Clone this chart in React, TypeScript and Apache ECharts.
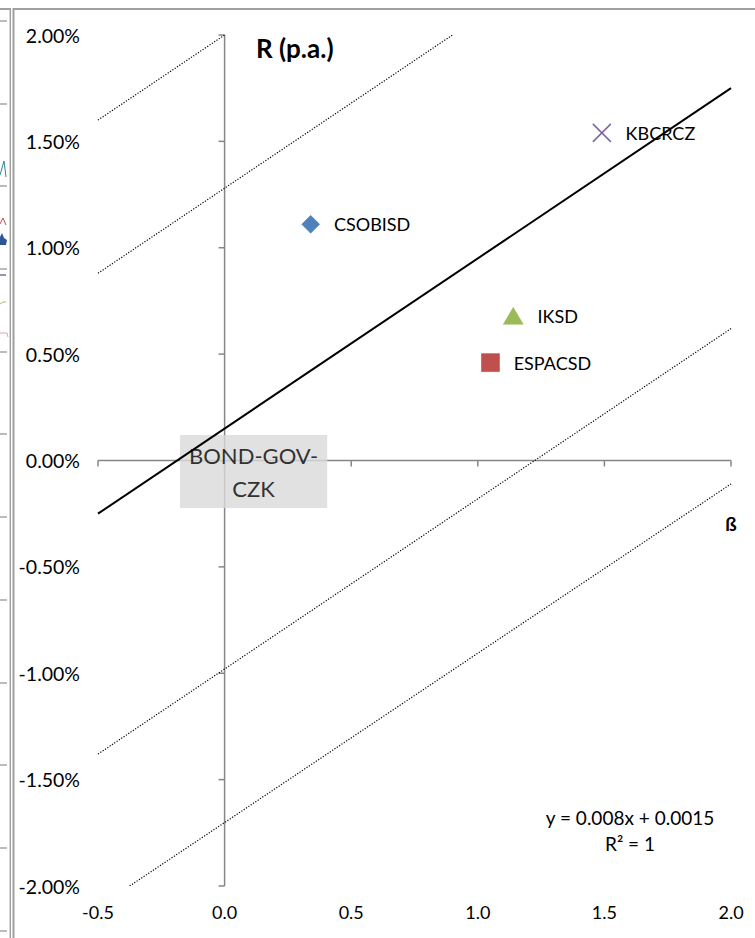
import React, { useEffect, useRef } from "react";
import * as echarts from "echarts";

const FONT = "Lato, 'Open Sans', sans-serif";

// axis ranges and ticks
const xMin = -0.5;
const xMax = 2.0;
const yMin = -0.02;
const yMax = 0.02;
const xTicks = [-0.5, 0, 0.5, 1.0, 1.5, 2.0];
const yTicks = [-0.02, -0.015, -0.01, -0.005, 0, 0.005, 0.01, 0.015, 0.02];

// securities (beta, annual return)
const stockNames = ["CSOBISD", "ESPACSD", "IKSD", "KBCRCZ"];
const stockBeta = [0.34, 1.05, 1.14, 1.49];
const stockReturn = [0.0111, 0.0046, 0.0068, 0.0154];
const stockColors = ["#4F81BD", "#C0504D", "#9BBB59", "#8064A2"];

// benchmark
const benchmarkName = "BOND-GOV-CZK";
const benchmarkPoint = [0, 0];

// security market line (y = 0.008x + 0.0015) and bands
const smlLine = [
  [-0.5, -0.0025],
  [2.0, 0.0175],
];
const bandOuterUpper = [
  [-0.5, 0.016],
  [0.0, 0.02],
];
const bandInnerUpper = [
  [-0.5, 0.0088],
  [0.9, 0.02],
];
const bandInnerLower = [
  [-0.5, -0.0138],
  [2.0, 0.0062],
];
const bandOuterLower = [
  [-0.375, -0.02],
  [2.0, -0.0011],
];

const equationLines = ["y = 0.008x + 0.0015", "R² = 1"];

// background chart ticks (partially visible chart at the left edge)
const leftStripTicks = [21, 104, 186, 269, 352, 434, 517, 600, 683, 765, 848, 931];

const AXIS = "#868686";

export default function App() {
  const ref = useRef<HTMLDivElement>(null);

  useEffect(() => {
    if (!ref.current) return;
    const chart = echarts.init(ref.current, undefined, { renderer: "svg" });

    const symbols = ["diamond", "rect", "triangle", "path://M0,0L10,10M10,0L0,10"];
    const sizes: any[] = [18, 18, [20, 17], 18];

    const stockSeries = stockNames.map((name, i) => ({
      type: "scatter",
      name,
      z: 4,
      data: [[stockBeta[i], stockReturn[i]]],
      symbol: symbols[i],
      symbolSize: sizes[i],
      itemStyle:
        i === 3
          ? { color: "transparent", borderColor: stockColors[i], borderWidth: 1.5, opacity: 1 }
          : {
              color: stockColors[i],
              borderColor: i === 1 ? "#b04542" : stockColors[i],
              borderWidth: 0.5,
              opacity: 1,
            },
      label: {
        show: true,
        position: "right",
        distance: 14,
        formatter: name,
        color: "#000",
        fontFamily: FONT,
        fontSize: 18,
      },
    }));

    const dotted = (data: number[][]) => ({
      type: "line",
      z: 3,
      data,
      symbol: "none",
      silent: true,
      lineStyle: { color: "#000", width: 1.2, type: [1.2, 1.6] },
    });

    const leftGraphics: any[] = [];
    leftStripTicks.forEach((y) =>
      leftGraphics.push({
        type: "line",
        shape: { x1: 0, y1: y, x2: 7, y2: y },
        style: { stroke: "#a6a6a6", lineWidth: 1.5 },
      })
    );

    chart.setOption({
      animation: false,
      backgroundColor: "#fff",
      grid: { left: 98, right: 24, top: 35, bottom: 52, containLabel: false },
      xAxis: {
        type: "value",
        min: xMin,
        max: xMax,
        interval: 0.5,
        axisLine: { show: false },
        axisTick: { show: false },
        splitLine: { show: false },
        axisLabel: {
          formatter: (v: number) => v.toFixed(1),
          color: "#000",
          fontFamily: FONT,
          fontSize: 18,
          margin: 17,
        },
      },
      yAxis: {
        type: "value",
        min: yMin,
        max: yMax,
        interval: 0.005,
        axisLine: { show: false },
        axisTick: { show: false },
        splitLine: { show: false },
        axisLabel: {
          formatter: (v: number) => (v * 100).toFixed(2) + "%",
          color: "#000",
          fontFamily: FONT,
          fontSize: 19.5,
          margin: 18,
          padding: [0, 0, 3, 0],
        },
      },
      series: [
        {
          type: "custom",
          silent: true,
          z: 1,
          data: [[0, 0]],
          renderItem: (_params: any, api: any) => {
            const children: any[] = [];
            const top = api.coord([0, yMax]);
            const bottom = api.coord([0, yMin]);
            children.push({
              type: "line",
              shape: { x1: top[0], y1: top[1], x2: bottom[0], y2: bottom[1] },
              style: { stroke: AXIS, lineWidth: 1.5 },
            });
            const left = api.coord([xMin, 0]);
            const right = api.coord([xMax, 0]);
            children.push({
              type: "line",
              shape: { x1: left[0], y1: left[1], x2: right[0], y2: right[1] },
              style: { stroke: AXIS, lineWidth: 1.5 },
            });
            yTicks.forEach((v) => {
              const p = api.coord([0, v]);
              children.push({
                type: "line",
                shape: { x1: p[0] - 6, y1: p[1], x2: p[0], y2: p[1] },
                style: { stroke: AXIS, lineWidth: 1.5 },
              });
            });
            xTicks.forEach((v) => {
              const p = api.coord([v, 0]);
              children.push({
                type: "line",
                shape: { x1: p[0], y1: p[1], x2: p[0], y2: p[1] + 6 },
                style: { stroke: AXIS, lineWidth: 1.5 },
              });
            });
            return { type: "group", children };
          },
        },
        {
          type: "scatter",
          name: benchmarkName,
          z: 2,
          data: [benchmarkPoint],
          symbolSize: 0.1,
          itemStyle: { color: "transparent" },
          label: {
            show: true,
            position: "inside",
            offset: [29, 11],
            formatter: "BOND-GOV-\nCZK",
            backgroundColor: "#d9d9d9",
            padding: [4, 9, 3, 9],
            color: "#000",
            fontFamily: FONT,
            fontSize: 22,
            lineHeight: 33,
            align: "center",
            verticalAlign: "middle",
          },
        },
        dotted(bandOuterUpper),
        dotted(bandInnerUpper),
        dotted(bandInnerLower),
        dotted(bandOuterLower),
        {
          type: "line",
          z: 3,
          data: smlLine,
          symbol: "none",
          silent: true,
          lineStyle: { color: "#000", width: 2 },
        },
        ...stockSeries,
      ],
      graphic: [
        // frame of this chart
        { type: "line", shape: { x1: 13.5, y1: 9, x2: 755, y2: 9 }, style: { stroke: "#a0a0a0", lineWidth: 2 } },
        { type: "line", shape: { x1: 13.5, y1: 8, x2: 13.5, y2: 938 }, style: { stroke: "#a0a0a0", lineWidth: 2 } },
        // frame of neighbouring chart
        { type: "line", shape: { x1: 0, y1: 9, x2: 10.5, y2: 9 }, style: { stroke: "#a0a0a0", lineWidth: 2 } },
        { type: "line", shape: { x1: 10.3, y1: 8, x2: 10.3, y2: 938 }, style: { stroke: "#a0a0a0", lineWidth: 1.5 } },
        ...leftGraphics,
        { type: "polyline", shape: { points: [[0, 175], [4, 161], [6, 177]] }, style: { stroke: "#31859c", lineWidth: 1, fill: null } },
        { type: "polyline", shape: { points: [[0, 224], [3, 218], [6, 225]] }, style: { stroke: "#c0504d", lineWidth: 1, fill: null } },
        { type: "polygon", shape: { points: [[0, 237], [2, 233], [4, 238], [7, 240], [6, 245], [0, 245]] }, style: { fill: "#2f5597" } },
        { type: "line", shape: { x1: 0, y1: 275, x2: 6, y2: 275 }, style: { stroke: "#8064a2", lineWidth: 1.5 } },
        { type: "polyline", shape: { points: [[0, 304], [3, 302], [6, 302]] }, style: { stroke: "#9bbb59", lineWidth: 1, fill: null } },
        { type: "polyline", shape: { points: [[0, 333], [7, 333], [8, 337]] }, style: { stroke: "#d9a3b0", lineWidth: 1, fill: null } },
        // axis titles
        {
          type: "text",
          x: 256,
          y: 48,
          style: { text: "R (p.a.)", font: `bold 26px ${FONT}`, fill: "#000", textVerticalAlign: "middle" },
        },
        {
          type: "text",
          x: 731,
          y: 523,
          style: { text: "ß", font: `bold 19px ${FONT}`, fill: "#000", textAlign: "center", textVerticalAlign: "middle" },
        },
        // trendline equation
        {
          type: "text",
          x: 630,
          y: 817,
          style: { text: equationLines[0], font: `19px ${FONT}`, fill: "#000", textAlign: "center", textVerticalAlign: "middle" },
        },
        {
          type: "text",
          x: 630,
          y: 843,
          style: { text: equationLines[1], font: `19px ${FONT}`, fill: "#000", textAlign: "center", textVerticalAlign: "middle" },
        },
      ],
    });

    return () => chart.dispose();
  }, []);

  return (
    <div
      ref={ref}
      style={{ position: "fixed", left: 0, top: 0, width: 755, height: 938, background: "#fff" }}
    />
  );
}
